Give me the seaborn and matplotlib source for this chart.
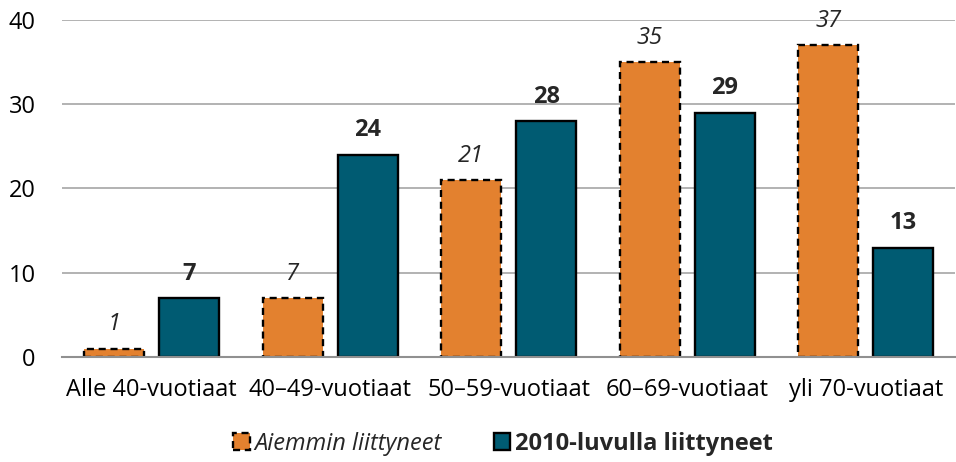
import matplotlib
matplotlib.use("Agg")
import matplotlib.pyplot as plt
from matplotlib.patches import Patch
import pandas as pd
import seaborn as sns

groups = ['Alle 40-vuotiaat', '40–49-vuotiaat', '50–59-vuotiaat', '60–69-vuotiaat', 'yli 70-vuotiaat']
series = ['Aiemmin liittyneet', '2010-luvulla liittyneet']
earlier = [1, 7, 21, 35, 37]
recent = [7, 24, 28, 29, 13]
colors = ['#E3812F', '#005B72']

df = pd.DataFrame({
    'ryhma': groups * 2,
    'sarja': [series[0]] * len(groups) + [series[1]] * len(groups),
    'arvo': earlier + recent,
})

sns.set_style('white')
plt.rcParams['font.family'] = ['Open Sans', 'DejaVu Sans']
fs = 17

fig = plt.figure(figsize=(9.56, 4.62), dpi=100)
ax = fig.add_axes([0.065, 0.227, 0.934, 0.730])

sns.barplot(data=df, x='ryhma', y='arvo', hue='sarja', palette=colors,
            width=0.84, gap=0.2, ax=ax, legend=False, saturation=1)

# orange bars: dashed edge, teal bars: solid edge
for i, cont in enumerate(ax.containers):
    for p in cont.patches:
        p.set_edgecolor('black')
        p.set_linewidth(1.7)
        if i == 0:
            p.set_linestyle((0, (3, 2)))
    if i == 0:
        ax.bar_label(cont, labels=[str(v) for v in earlier], padding=9,
                     fontsize=fs, fontstyle='italic', clip_on=False)
    else:
        ax.bar_label(cont, labels=[str(v) for v in recent], padding=9,
                     fontsize=fs, fontweight='bold', clip_on=False)

ax.set_ylim(0, 40)
ax.set_yticks([0, 10, 20, 30, 40])
ax.set_xlim(-0.5, 4.5)
ax.yaxis.grid(True, color='#A6A6A6', linewidth=1.2)
ax.set_axisbelow(True)
for s in ['top', 'right', 'left']:
    ax.spines[s].set_visible(False)
ax.spines['bottom'].set_color('#909090')
ax.spines['bottom'].set_linewidth(1.5)
ax.tick_params(axis='both', length=0, labelsize=fs, colors='black')
ax.tick_params(axis='x', pad=15)
ax.tick_params(axis='y', pad=19)
ax.set_xlabel('')
ax.set_ylabel('')

handles = [
    Patch(facecolor=colors[0], edgecolor='black', linewidth=1.7, linestyle=(0, (3, 2))),
    Patch(facecolor=colors[1], edgecolor='black', linewidth=1.7),
]
leg = fig.legend(handles, series, loc='center', bbox_to_anchor=(0.526, 0.04),
                 ncol=2, frameon=False, fontsize=fs, handlelength=0.7,
                 handleheight=0.7, handletextpad=0.2, columnspacing=2.2)
leg.get_texts()[0].set_fontstyle('italic')
leg.get_texts()[1].set_fontweight('bold')

fig.savefig('out.png', dpi=100)
